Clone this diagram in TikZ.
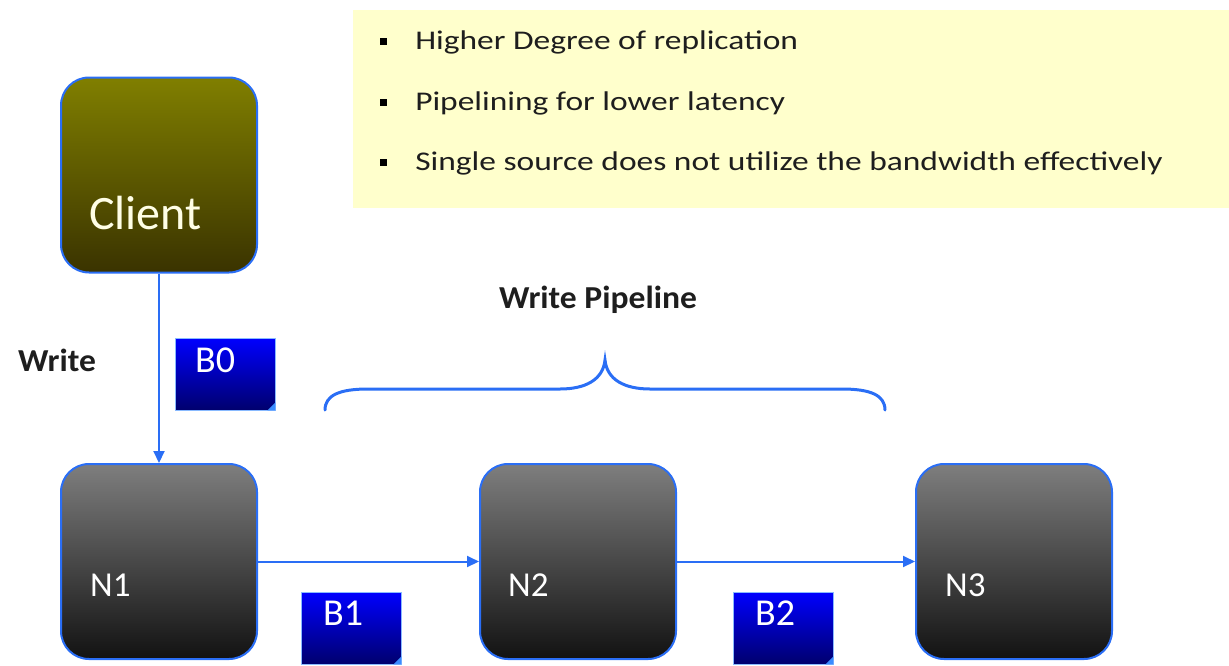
\documentclass[tikz,border=0pt]{standalone}
\usepackage{fontspec}
\setmainfont{Carlito}
\usetikzlibrary{arrows.meta}
\definecolor{lnblue}{HTML}{2A6EF5}
\definecolor{noteyellow}{HTML}{FFFFCC}
\definecolor{olivetop}{HTML}{807F00}
\definecolor{olivebot}{HTML}{3A3300}
\definecolor{greytop}{HTML}{7E7E7E}
\definecolor{greybot}{HTML}{121212}
\definecolor{bluetop}{HTML}{0000FF}
\definecolor{bluebot}{HTML}{00006E}
\definecolor{foldblue}{HTML}{3A8CFF}
\definecolor{txtdark}{HTML}{1E1E1E}
\tikzset{
  bigbox/.style={draw=lnblue, line width=2pt, rounded corners=28pt, minimum width=196pt, minimum height=195pt, inner sep=0pt},
  clientbox/.style={bigbox, top color=olivetop, bottom color=olivebot},
  datanode/.style={bigbox, top color=greytop, bottom color=greybot},
  blockbox/.style={draw=foldblue!60, line width=0.8pt, top color=bluetop, bottom color=bluebot, minimum width=100pt, minimum height=72pt, inner sep=0pt},
  boxtext/.style={anchor=west, text=white, inner sep=0pt},
  flow/.style={draw=lnblue, line width=2pt, -{Triangle[length=12pt, width=11pt]}},
  bullettext/.style={anchor=west, text=txtdark, inner sep=0pt, xscale=1.24, font=\fontsize{27}{30}\selectfont},
  bulletmark/.style={fill=black, minimum size=7pt, inner sep=0pt},
  headlabel/.style={inner sep=0pt, text=txtdark, xscale=1.05, font=\bfseries\fontsize{32}{36}\selectfont},
}
\begin{document}
\begin{tikzpicture}[x=1pt,y=-1pt]
\useasboundingbox (0,0) rectangle (1229,665);
% note box
\fill[noteyellow] (353,10) rectangle (1229,208);
\node[bulletmark] (m1) at (383,41) {};
\node[bulletmark] (m2) at (383,102) {};
\node[bulletmark] (m3) at (383,162) {};
\node[bullettext] (t1) at (415,42) {Higher Degree of replication};
\node[bullettext] (t2) at (415,103) {Pipelining for lower latency};
\node[bullettext] (t3) at (415,163) {Single source does not utilize the bandwidth effectively};
% boxes
\node[clientbox] (client) at (159,175) {};
\node[boxtext, font=\fontsize{48}{52}\selectfont, text=white!90!yellow] (clientlbl) at (89,213) {Client};
\node[datanode] (n1) at (159,561.5) {};
\node[datanode] (n2) at (578,561.5) {};
\node[datanode] (n3) at (1014,561.5) {};
\node[boxtext, font=\fontsize{35}{38}\selectfont] (n1lbl) at (90,585) {N1};
\node[boxtext, font=\fontsize{35}{38}\selectfont] (n2lbl) at (508,585) {N2};
\node[boxtext, font=\fontsize{35}{38}\selectfont] (n3lbl) at (945,585) {N3};
% connectors
\draw[flow] (client.south) -- (n1.north);
\draw[flow] (n1.east) -- (n2.west);
\draw[flow] (n2.east) -- (n3.west);
% blocks
\node[blockbox] (b0) at (225,374) {};
\node[blockbox] (b1) at (351,628) {};
\node[blockbox] (b2) at (783,628) {};
\foreach \b in {b0,b1,b2}{
  \fill[foldblue] (\b.south east) ++(0,-8) -- ++(-8,8) -- ++(8,0) -- cycle;
}
\node[boxtext, font=\fontsize{38}{42}\selectfont] (b0lbl) at (195,360) {B0};
\node[boxtext, font=\fontsize{38}{42}\selectfont] (b1lbl) at (323,613) {B1};
\node[boxtext, font=\fontsize{38}{42}\selectfont] (b2lbl) at (755,613) {B2};
% labels
\node[headlabel, anchor=west] (writelbl) at (18,360) {Write};
\node[headlabel] (pipelbl) at (598,300) {Write Pipeline};
% brace
\draw[lnblue, line width=3pt, line cap=round]
  (325,410) .. controls (325,395) and (340,389) .. (368,389)
  -- (560,389) .. controls (585,389) and (603,380) .. (605,360)
  .. controls (607,380) and (625,389) .. (650,389)
  -- (842,389) .. controls (870,389) and (885,395) .. (885,410);
\end{tikzpicture}
\end{document}
